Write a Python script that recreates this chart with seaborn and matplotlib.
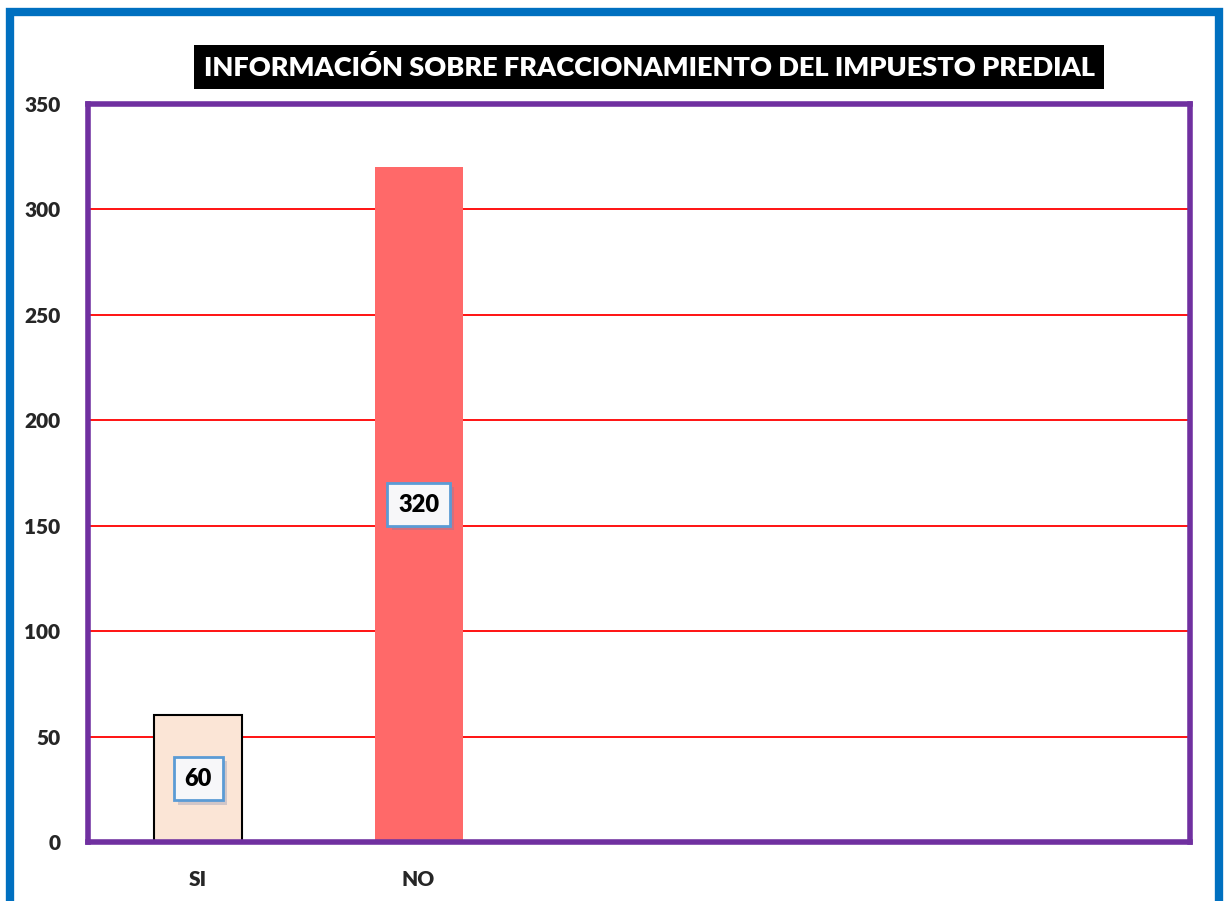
import numpy as np
import pandas as pd
import matplotlib
matplotlib.use('Agg')
import matplotlib.pyplot as plt
import matplotlib.patheffects as pe
from matplotlib.patches import Rectangle
import seaborn as sns

# ── Data ──────────────────────────────────────────────────────────────────────
categories = ["SI", "NO"]
values     = [60, 320]
slots      = ["SI", "NO", " ", "  ", "   "]
bar_colors = {"SI": "#FBE5D6", "NO": "#FF6969"}
y_ticks    = [0, 50, 100, 150, 200, 250, 300, 350]
title      = "INFORMACIÓN SOBRE FRACCIONAMIENTO DEL IMPUESTO PREDIAL"

df = pd.DataFrame({"resp": categories, "n": values})

sns.set_style("white")
plt.rcParams['font.family'] = ['Lato', 'DejaVu Sans']
BOLD = 800

W, H = 1224, 901
fig = plt.figure(figsize=(W / 100, H / 100), dpi=100)
ax = fig.add_axes([88 / W, 1 - 842 / H, (1190 - 88) / W, (842 - 104) / H])

sns.barplot(data=df, x="resp", y="n", hue="resp", order=slots,
            palette=bar_colors, width=0.4, saturation=1, legend=False,
            ax=ax, zorder=3)
for p, c in zip(ax.patches, categories):
    if c == "SI":
        p.set_edgecolor("black")
        p.set_linewidth(1.5)
    else:
        p.set_edgecolor("none")

ax.set_xlim(-0.5, len(slots) - 0.5)
ax.set_ylim(0, 350)
ax.set_yticks(y_ticks)
ax.set_yticklabels([str(t) for t in y_ticks], fontsize=15, fontweight=BOLD)
ax.tick_params(axis='y', length=0, pad=20)
ax.set_xticks(range(len(slots)))
ax.set_xticklabels(slots, fontsize=15, fontweight=BOLD)
ax.tick_params(axis='x', which='major', length=0, pad=20)
ax.set_xticks(np.arange(-0.5, len(slots), 1), minor=True)
ax.tick_params(axis='x', which='minor', length=5, width=2, color='#BFBFBF')
ax.set_xlabel("")
ax.set_ylabel("")

for t in y_ticks[1:-1]:
    ax.axhline(t, color='#FF0000', linewidth=1.3, zorder=1)
ax.axhline(0, color='#BFBFBF', linewidth=3, zorder=4)

for s in ax.spines.values():
    s.set_color('#7030A0')
    s.set_linewidth(4)
    s.set_zorder(5)

# data labels
for i, v in enumerate(values):
    t = ax.text(i, v / 2, str(v), ha='center', va='center', fontsize=17,
                fontweight=BOLD, color='black', zorder=6,
                bbox=dict(boxstyle='square,pad=0.45', facecolor='#F7F7F9',
                          edgecolor='#5B9BD5', linewidth=2))
    t.get_bbox_patch().set_path_effects(
        [pe.SimplePatchShadow(offset=(3, -3), shadow_rgbFace='#7080A8', alpha=0.3),
         pe.Normal()])

# title box
fig.text(649 / W, 1 - 67 / H, title, ha='center', va='center', fontsize=19.5,
         fontweight=BOLD, color='white',
         bbox=dict(boxstyle='square,pad=0.35', facecolor='black', edgecolor='none'))

# outer blue frame
fig.patches.append(Rectangle((10 / W, -0.05), (1219 - 10) / W, 1 - 12 / H + 0.05,
                             transform=fig.transFigure, fill=False,
                             edgecolor='#0070C0', linewidth=6))

fig.savefig("out.png", dpi=100)
